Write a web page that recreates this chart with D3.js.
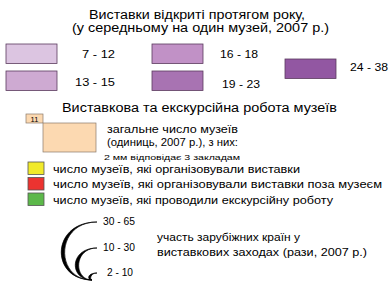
<!DOCTYPE html>
<html>
<head>
<meta charset="utf-8">
<script src="https://cdn.jsdelivr.net/npm/d3@7"></script>
<style>
  html, body { margin: 0; padding: 0; background: #fff; }
  svg { display: block; font-family: "Liberation Sans", Arial, sans-serif; }
</style>
</head>
<body>
<div id="chart"></div>
<script>
const titleLines = ['Виставки відкриті протягом року,', '(у середньому на один музей, 2007 р.)'];
const exhibitClasses = ['7 - 12', '13 - 15', '16 - 18', '19 - 23', '24 - 38'];

const workTitle = 'Виставкова та екскурсійна робота музеїв';
const sampleCount = ['11'];
const totalLines = ['загальне число музеїв', '(одиниць, 2007 р.), з них:'];
const scaleNote = '2 мм відповідає 3 закладам';
const museumSeries = [
  'число музеїв, які організовували виставки',
  'число музеїв, які організовували виставки поза музеєм',
  'число музеїв, які проводили екскурсійну роботу'
];

const foreignClasses = ['2 - 10', '10 - 30', '30 - 65'];
const foreignUpper = [10, 30, 65];
const foreignLines = ['участь зарубіжних країн у', 'виставкових заходах (рази, 2007 р.)'];

const width = 391, height = 281;

const svg = d3.select('#chart')
  .append('svg')
  .attr('width', width)
  .attr('height', height);

// stretch text to the width it has in the original
function fit(sel, w) {
  sel.attr('textLength', w).attr('lengthAdjust', 'spacingAndGlyphs');
}

// --- block 1: exhibitions per museum
const titleX = [89, 72], titleW = [216, 257];
svg.selectAll('.title')
  .data(titleLines)
  .enter()
  .append('text')
  .attr('class', 'title')
  .attr('x', (d, i) => titleX[i])
  .attr('y', (d, i) => 19 + i * 13)
  .style('font-size', '12.5px')
  .text(d => d)
  .each(function (d, i) { fit(d3.select(this), titleW[i]); });

const classColor = d3.scaleOrdinal()
  .domain(exhibitClasses)
  .range(['#dcc5e1', '#ceaad2', '#c191c6', '#a873b2', '#9257a2']);

// two columns of two rows, the last class sits alone on the right
const colX = d3.scaleOrdinal().domain([0, 1, 2]).range([6, 152, 285]);
const rowY = d3.scalePoint().domain([0, 1]).range([44, 71]);
const labelX = [82, 75, 220, 222, 350];
const labelW = [33, 40, 38, 38, 38];
const labelDy = [14, 15, 14, 17, 12];

svg.selectAll('.cls')
  .data(exhibitClasses)
  .enter()
  .append('g')
  .attr('class', 'cls')
  .each(function (d, i) {
    const g = d3.select(this);
    const col = Math.floor(i / 2);
    const x = colX(col);
    const y = col === 2 ? 59 : rowY(i % 2);
    g.append('rect')
      .attr('x', x).attr('y', y)
      .attr('width', 51).attr('height', 19.5)
      .attr('fill', classColor(d))
      .attr('stroke', '#5b3b5e')
      .attr('stroke-width', 0.8);
    g.append('text')
      .attr('x', labelX[i])
      .attr('y', y + labelDy[i])
      .style('font-size', '11.5px')
      .text(d)
      .call(fit, labelW[i]);
  });

// --- block 2: museum work
svg.append('text')
  .attr('x', 62).attr('y', 112)
  .style('font-size', '12.5px')
  .text(workTitle)
  .call(fit, 275);

svg.append('rect')
  .attr('x', 26).attr('y', 114).attr('width', 17).attr('height', 9)
  .attr('fill', '#fcd9b1').attr('stroke', '#8a7a6a').attr('stroke-width', 0.7);
svg.append('text')
  .attr('x', 34.5).attr('y', 121.5)
  .attr('text-anchor', 'middle')
  .style('font-size', '7.5px')
  .text(sampleCount[0]);

svg.append('rect')
  .attr('x', 43).attr('y', 123).attr('width', 53).attr('height', 29)
  .attr('fill', '#fcd9b1').attr('stroke', '#8a7a6a').attr('stroke-width', 0.7);

svg.selectAll('.total')
  .data(totalLines)
  .enter()
  .append('text')
  .attr('class', 'total')
  .attr('x', 107)
  .attr('y', (d, i) => 133 + i * 12.5)
  .style('font-size', '11.5px')
  .text(d => d)
  .call(fit, 131);

svg.append('text')
  .attr('x', 104).attr('y', 160)
  .style('font-size', '8px')
  .text(scaleNote)
  .call(fit, 136);

const seriesColor = d3.scaleOrdinal()
  .domain(museumSeries)
  .range(['#f1ea2b', '#ec3330', '#5cb84a']);
const seriesY = d3.scalePoint()
  .domain(museumSeries)
  .range([162, 193]);
const seriesW = [247, 329, 280];

const items = svg.selectAll('.ser')
  .data(museumSeries)
  .enter()
  .append('g')
  .attr('class', 'ser')
  .attr('transform', d => `translate(28,${seriesY(d)})`);
items.append('rect')
  .attr('width', 16).attr('height', 12.5)
  .attr('fill', d => seriesColor(d))
  .attr('stroke', '#555').attr('stroke-width', 0.8);
items.append('text')
  .attr('x', 25).attr('y', 10.5)
  .style('font-size', '11.5px')
  .text(d => d)
  .each(function (d, i) { fit(d3.select(this), seriesW[i]); });

// --- block 3: foreign participation arcs
const baseX = 92, baseY = 280;
const arcH = d3.scaleLinear().domain([10, 30, 65]).range([7, 32, 58]);
const arcLabelX = [107, 103, 103], arcLabelW = [26, 32, 32];

const arcs = svg.selectAll('.arc')
  .data(foreignClasses)
  .enter()
  .append('g')
  .attr('class', 'arc');

arcs.append('path')
  .attr('d', (d, i) => {
    const h = arcH(foreignUpper[i]);
    const top = baseY - h;
    const sx = baseX + 5;
    const c = baseX - 0.72 * h;
    const ci = c + Math.min(4.5, h * 0.4);
    return `M${sx},${top} C${c},${top} ${c},${baseY} ${baseX},${baseY}` +
      ` C${ci},${baseY} ${ci},${top} ${sx},${top} Z`;
  })
  .attr('fill', '#000')
  .attr('stroke', '#000')
  .attr('stroke-width', 0.7);

arcs.append('text')
  .attr('x', (d, i) => arcLabelX[i])
  .attr('y', (d, i) => baseY - arcH(foreignUpper[i]) + 3)
  .style('font-size', '10.5px')
  .text(d => d)
  .each(function (d, i) { fit(d3.select(this), arcLabelW[i]); });

const foreignW = [143, 210];
svg.selectAll('.foreign')
  .data(foreignLines)
  .enter()
  .append('text')
  .attr('class', 'foreign')
  .attr('x', 157)
  .attr('y', (d, i) => 241 + i * 15)
  .style('font-size', '11.5px')
  .text(d => d)
  .each(function (d, i) { fit(d3.select(this), foreignW[i]); });
</script>
</body>
</html>
